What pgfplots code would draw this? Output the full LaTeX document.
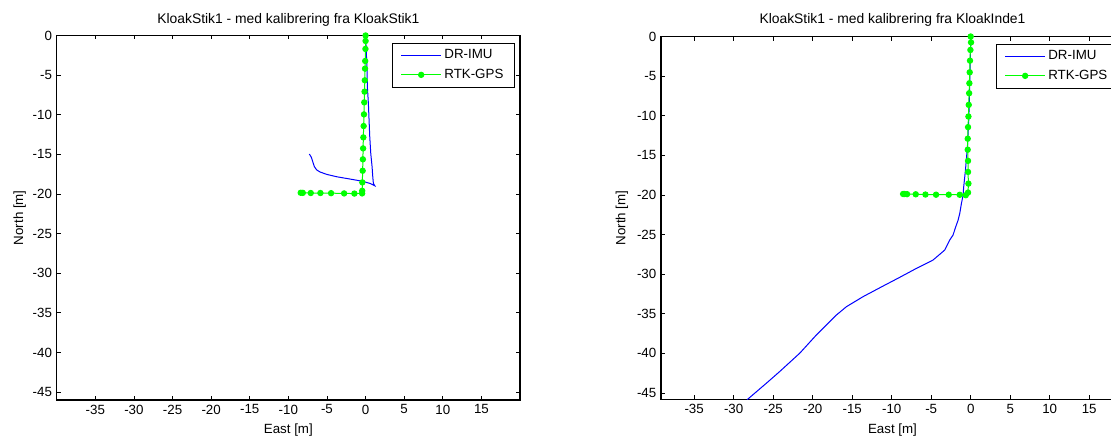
\documentclass[border=0pt]{standalone}
\usepackage{pgfplots}
\pgfplotsset{compat=1.18}
\usepackage{fontspec}
\setmainfont{Liberation Sans}
\definecolor{imublue}{RGB}{0,0,255}
\definecolor{gpsgreen}{RGB}{0,255,0}
\pgfplotsset{
 every axis title shift=0pt,
 mystyle/.style={
  scale only axis,
  anchor=south west,
  axis line style={line width=0.9pt},
  every tick/.style={black, line width=0.6pt},
  tick align=inside,
  major tick length=3pt,
  xtick={-35,-30,...,15},
  xticklabels={-35,-30,-25,-20,-15,-10,-5,0,5,10,15},
  ytick={-45,-40,...,0},
  yticklabels={-45,-40,-35,-30,-25,-20,-15,-10,-5,0},
  tick label style={font=\fontsize{10}{12}\selectfont},
  label style={font=\fontsize{10}{12}\selectfont},
  title style={font=\fontsize{10.4}{12}\selectfont, anchor=center},
  xlabel={East [m]}, ylabel={North [m]},
  legend style={anchor=north east,
    font=\fontsize{10}{12}\selectfont, inner xsep=6pt, inner ysep=3pt, row sep=2.3pt},
  legend cell align=left,
 },
 imuleg/.style={legend image code/.code={\draw[draw=imublue, line width=0.8pt] (0pt,0pt) -- (30pt,0pt);}},
 gpsleg/.style={legend image code/.code={\draw[draw=gpsgreen, line width=0.8pt] (0pt,0pt) -- (30pt,0pt); \fill[gpsgreen] (15pt,0pt) circle[radius=2pt];}},
}
\pgfplotstableread{
x y
0 0
0.10 -2.25
0.19 -4.36
0.23 -6.46
0.36 -8.56
0.45 -10.67
0.54 -12.78
0.67 -14.88
0.84 -16.56
0.93 -17.83
1.01 -18.67
1.19 -18.96
0.58 -18.67
-0.49 -18.38
-2.00 -18.12
-3.73 -17.83
-5.03 -17.53
-5.89 -17.23
-6.32 -16.98
-6.63 -16.56
-6.84 -15.93
-7.02 -15.38
-7.28 -14.96
}\imuA
\pgfplotstableread{
x y
0 0
0.00 -0.69
-0.02 -1.70
-0.05 -3.22
-0.07 -4.19
-0.10 -5.66
-0.13 -7.09
-0.17 -8.44
-0.21 -9.96
-0.25 -11.43
-0.29 -12.86
-0.32 -14.25
-0.35 -15.63
-0.38 -17.07
-0.42 -18.54
-0.44 -19.60
-0.45 -19.93
-1.45 -19.95
-2.78 -19.93
-4.47 -19.90
-5.85 -19.88
-7.10 -19.88
-8.13 -19.86
-8.40 -19.85
}\gpsA
\pgfplotstableread{
x y
-28.30 -45.85
-25.84 -43.75
-24.16 -42.28
-21.63 -39.97
-19.52 -37.66
-16.99 -35.15
-15.72 -34.10
-13.62 -32.84
-11.09 -31.50
-8.98 -30.40
-6.87 -29.27
-4.77 -28.22
-3.29 -26.96
-2.66 -25.70
-2.24 -25.07
-1.90 -24.03
-1.60 -23.19
-1.39 -22.35
-1.18 -21.09
-0.97 -20.04
-0.89 -18.99
-0.67 -16.90
-0.42 -13.96
-0.25 -10.60
-0.13 -6.40
-0.04 -2.20
0 0
}\imuB
\pgfplotstableread{
x y
0 0
0.04 -0.74
-0.04 -1.70
-0.09 -3.05
-0.13 -4.52
-0.17 -5.90
-0.20 -7.16
-0.25 -8.63
-0.29 -10.10
-0.34 -11.44
-0.38 -12.90
-0.38 -14.29
-0.34 -15.70
-0.34 -17.10
-0.29 -18.57
-0.34 -19.70
-0.63 -20.04
-1.39 -19.98
-2.78 -19.97
-4.39 -19.97
-5.73 -19.95
-6.96 -19.92
-8.06 -19.90
-8.39 -19.88
-8.56 -19.88
}\gpsB
\begin{document}
\begin{tikzpicture}
\useasboundingbox (0,0) rectangle (833.25pt,327.75pt);
\clip (0,0) rectangle (833.25pt,327.75pt);
\begin{axis}[mystyle,
  at={(42.525pt,27.75pt)}, width=347.5pt, height=273.4pt,
  xmin=-40, xmax=20, ymin=-46, ymax=0,
  title={KloakStik1 - med kalibrering fra KloakStik1},
  title style={at={(axis description cs:0.5,1.043)}},
  xlabel style={at={(axis description cs:0.5,-0.0823)}, anchor=center},
  ylabel style={at={(axis description cs:-0.0799,0.5)}, anchor=center},
  legend style={at={(axis description cs:0.9877,0.9802)}},
]
\addplot[draw=imublue, line width=0.75pt, no marks, imuleg] table {\imuA};
\addlegendentry{DR-IMU}
\addplot[draw=gpsgreen, line width=0.75pt, mark=*, mark size=2pt, mark options={fill=gpsgreen, draw=gpsgreen}, gpsleg] table {\gpsA};
\addlegendentry{RTK-GPS}
\end{axis}
\begin{axis}[mystyle,
  at={(495.75pt,28.275pt)}, width=347.25pt, height=272.1pt,
  xmin=-39.2, xmax=19.4, ymin=-45.8, ymax=0,
  title={KloakStik1 - med kalibrering fra KloakInde1},
  title style={at={(axis description cs:0.5,1.045)}},
  xlabel style={at={(axis description cs:0.5,-0.0846)}, anchor=center},
  ylabel style={at={(axis description cs:-0.0842,0.5)}, anchor=center},
  legend style={at={(axis description cs:0.9877,0.9802)}},
]
\addplot[draw=imublue, line width=0.75pt, no marks, imuleg] table {\imuB};
\addlegendentry{DR-IMU}
\addplot[draw=gpsgreen, line width=0.75pt, mark=*, mark size=2pt, mark options={fill=gpsgreen, draw=gpsgreen}, gpsleg] table {\gpsB};
\addlegendentry{RTK-GPS}
\end{axis}
\end{tikzpicture}
\end{document}
